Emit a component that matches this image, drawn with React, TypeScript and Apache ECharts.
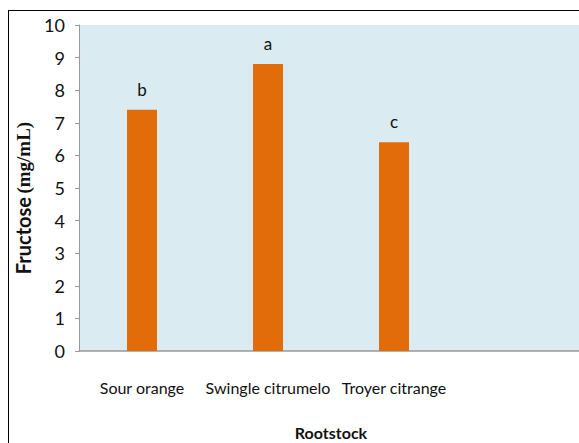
import React, { useEffect, useRef } from "react";
import * as echarts from "echarts";

const categories = ["Sour orange", "Swingle citrumelo", "Troyer citrange", ""];
const fructose = [7.4, 8.8, 6.4, null];
const letters = ["b", "a", "c", ""];

const sans = "Lato, 'Open Sans', sans-serif";

const App: React.FC = () => {
  const chartRef = useRef<HTMLDivElement>(null);

  useEffect(() => {
    if (!chartRef.current) return;
    const chart = echarts.init(chartRef.current, undefined, { renderer: "svg" });

    const option: any = {
      animation: false,
      grid: {
        left: 70,
        top: 14,
        width: 504,
        height: 326,
        backgroundColor: "#daebf2",
        show: true,
        borderWidth: 0,
        containLabel: false,
        outerBoundsMode: "none",
      },
      xAxis: {
        type: "category",
        data: categories,
        name: "Rootstock",
        nameLocation: "middle",
        nameGap: 73,
        nameTextStyle: { fontFamily: sans, fontSize: 16, fontWeight: "bold", color: "#111" },
        axisLine: { lineStyle: { color: "#999", width: 1.5 } },
        axisTick: { show: false },
        axisLabel: { fontFamily: sans, fontSize: 16, color: "#111", margin: 28, interval: 0, hideOverlap: false },
      },
      yAxis: {
        type: "value",
        min: 0,
        max: 10,
        interval: 1,
        name: "{a|Fructose} {b|(mg/mL)}",
        nameLocation: "middle",
        nameGap: 40,
        nameTextStyle: {
          padding: [0, 20, 0, 0],
          rich: {
            a: { fontFamily: sans, fontWeight: "bold", fontSize: 20, color: "#111" },
            b: { fontFamily: "'Liberation Serif', serif", fontWeight: "bold", fontSize: 19, color: "#111" },
          },
        },
        splitLine: { show: false },
        axisLine: { show: true, lineStyle: { color: "#999" } },
        axisTick: { show: true, length: 4, lineStyle: { color: "#999" } },
        axisLabel: { fontFamily: sans, fontSize: 18, color: "#111", margin: 14 },
      },
      series: [
        {
          type: "bar",
          data: fructose,
          barWidth: 30,
          itemStyle: { color: "#e36c0a" },
          label: {
            show: true,
            position: "top",
            distance: 12,
            fontFamily: sans,
            fontSize: 17,
            color: "#111",
            formatter: (p: any) => letters[p.dataIndex],
          },
        },
      ],
    };

    chart.setOption(option);
    return () => chart.dispose();
  }, []);

  return (
    <div
      style={{
        position: "absolute",
        left: 8,
        top: 10,
        width: 571,
        height: 433,
        borderTop: "1px solid #000",
        borderLeft: "1px solid #000",
        overflow: "hidden",
        background: "#fff",
      }}
    >
      <div ref={chartRef} style={{ width: 580, height: 440 }} />
    </div>
  );
};

export default App;
